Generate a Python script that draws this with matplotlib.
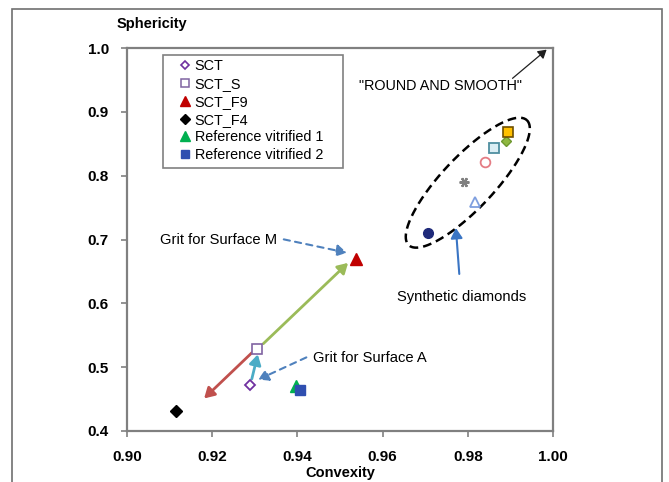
import numpy as np
import matplotlib
matplotlib.use("Agg")
import matplotlib.pyplot as plt
from matplotlib.patches import Rectangle
from matplotlib.lines import Line2D

plt.rcParams['font.family'] = ['Liberation Sans', 'DejaVu Sans']

# ---- data ----
legend_labels = ["SCT", "SCT_S", "SCT_F9", "SCT_F4", "Reference vitrified 1", "Reference vitrified 2"]
legend_x = [0.9288, 0.9305, 0.9537, 0.9115, 0.9397, 0.9407]
legend_y = [0.472, 0.529, 0.670, 0.432, 0.470, 0.465]

synthetic_x = [0.9706, 0.9817, 0.9791, 0.9840, 0.9861, 0.9890, 0.9895]
synthetic_y = [0.710, 0.759, 0.790, 0.822, 0.843, 0.8545, 0.869]

x_ticks = [0.90, 0.92, 0.94, 0.96, 0.98, 1.00]
y_ticks = [0.4, 0.5, 0.6, 0.7, 0.8, 0.9, 1.0]

# ---- styles ----
legend_styles = [
    dict(marker='D', ms=5, mfc='white', mec='#7030a0', mew=1.3),
    dict(marker='s', ms=6.5, mfc='white', mec='#8064a2', mew=1.2),
    dict(marker='^', ms=9, mfc='#c00000', mec='#c00000', mew=1),
    dict(marker='D', ms=6, mfc='black', mec='black', mew=1),
    dict(marker='^', ms=8, mfc='#00b050', mec='#00b050', mew=1),
    dict(marker='s', ms=7, mfc='#2f4fb0', mec='#2f4fb0', mew=1),
]
legend_handle_styles = [
    dict(marker='D', ms=4.5, mfc='white', mec='#7030a0', mew=1.2),
    dict(marker='s', ms=5.5, mfc='white', mec='#8064a2', mew=1.1),
    dict(marker='^', ms=6.5, mfc='#c00000', mec='#c00000', mew=1),
    dict(marker='D', ms=5, mfc='black', mec='black', mew=1),
    dict(marker='^', ms=6.5, mfc='#00b050', mec='#00b050', mew=1),
    dict(marker='s', ms=6, mfc='#2f4fb0', mec='#2f4fb0', mew=1),
]
synthetic_styles = [
    dict(marker='o', ms=7, mfc='#1f2a7a', mec='#1f2a7a', mew=1),
    dict(marker='^', ms=7.5, mfc='white', mec='#7f9fdf', mew=1.3),
    dict(marker=(6, 2, 90), ms=7, mfc='#808080', mec='#808080', mew=1.6),
    dict(marker='o', ms=7, mfc='white', mec='#e47c84', mew=1.3),
    dict(marker='s', ms=7.5, mfc='#dbeef4', mec='#4f8fa0', mew=1.3),
    dict(marker='D', ms=5, mfc='#8fb840', mec='#6f9830', mew=1),
    dict(marker='s', ms=7.5, mfc='#ffc000', mec='#6f5000', mew=1.2),
]

fig = plt.figure(figsize=(6.69, 4.82), dpi=100)
W, H = 669, 482
ax = fig.add_axes([127 / W, 1 - 431 / H, (553 - 127) / W, (431 - 48) / H])

for xv, yv, st in zip(legend_x, legend_y, legend_styles):
    ax.plot([xv], [yv], linestyle='none', zorder=5, **st)
for xv, yv, st in zip(synthetic_x, synthetic_y, synthetic_styles):
    ax.plot([xv], [yv], linestyle='none', zorder=5, **st)

ax.set_xlim(0.90, 1.00)
ax.set_ylim(0.4, 1.0)
ax.set_xticks(x_ticks)
ax.set_xticklabels([f"{v:.2f}" for v in x_ticks], fontweight='bold', fontsize=11)
ax.set_yticks(y_ticks)
ax.set_yticklabels([f"{v:.1f}" for v in y_ticks], fontweight='bold', fontsize=11)
ax.tick_params(direction='out', length=4, width=1.2, color='#808080')
ax.tick_params(axis='x', pad=10)
ax.tick_params(axis='y', pad=9)
for s in ax.spines.values():
    s.set_color('#808080')
    s.set_linewidth(1.6)

ax.set_xlabel("Convexity", fontweight='bold', fontsize=10.5, labelpad=1)
fig.text(152 / W, 1 - 24 / H, "Sphericity", fontweight='bold', fontsize=10.5,
         ha='center', va='center')

# ---- arrows ----
def arrow(tail, head, color, ls='-', lw=1.8, hw=3.5, hl=6):
    ax.annotate("", xy=head, xytext=tail,
                arrowprops=dict(arrowstyle=f"-|>,head_width={hw/10:.2f},head_length={hl/10:.2f}",
                                color=color, lw=lw, linestyle=ls,
                                shrinkA=0, shrinkB=0), zorder=4)

arrow((0.9320, 0.5368), (0.9519, 0.6634), '#9bbb59', lw=2)
arrow((0.9293, 0.5225), (0.9181, 0.4510), '#c0504d', lw=2)
arrow((0.9293, 0.4816), (0.9307, 0.5200), '#4bacc6', lw=2)
arrow((0.9421, 0.5153), (0.9308, 0.4806), '#4f81bd', ls=(0, (3, 2.5)), lw=1.5)
arrow((0.9368, 0.7002), (0.9516, 0.6793), '#4f81bd', ls=(0, (3, 2.5)), lw=1.5)
arrow((0.9905, 0.9525), (0.9985, 0.9974), '#202020', lw=0.9, hw=3, hl=5)
arrow((0.9780, 0.6460), (0.9772, 0.7180), '#3a75c4', lw=1.5)

# ---- ellipse ----
t = np.linspace(0, 2 * np.pi, 300)
cx, cy = 0.980, 0.789
ux, uy = 0.01385, 0.098
vx, vy = 0.00450, -0.0275
ax.plot(cx + np.cos(t) * ux + np.sin(t) * vx, cy + np.cos(t) * uy + np.sin(t) * vy,
        color='black', lw=1.8, linestyle=(0, (3.5, 2)), zorder=3)

# ---- texts ----
ax.text(0.9737, 0.9405, '"ROUND AND SMOOTH"', ha='center', va='center', fontsize=10.4)
ax.text(0.9216, 0.699, 'Grit for Surface M', ha='center', va='center', fontsize=10.6)
ax.text(0.9570, 0.5144, 'Grit for Surface A', ha='center', va='center', fontsize=10.6)
ax.text(0.9786, 0.610, 'Synthetic diamonds', ha='center', va='center', fontsize=10.6)

# ---- legend ----
handles = [Line2D([], [], linestyle='none', **st) for st in legend_handle_styles]
ax_w, ax_h = 553 - 127, 431 - 48
leg = ax.legend(handles, legend_labels, loc='upper left',
                bbox_to_anchor=((176 - 127) / ax_w, (431 - 56) / ax_h),
                frameon=False, fontsize=10.4, handlelength=0.9, handletextpad=0.2,
                borderpad=0.2, labelspacing=0.27, borderaxespad=0)
ax.add_patch(Rectangle(((163 - 127) / ax_w, (431 - 168) / ax_h), (343 - 163) / ax_w,
                       (168 - 55) / ax_h, transform=ax.transAxes, fill=False,
                       edgecolor='#808080', lw=1.2, zorder=6))

# ---- outer border ----
fig.add_artist(Rectangle((12 / W, -0.05), (662 - 12) / W, 1 - 9 / H + 0.05,
                         transform=fig.transFigure, fill=False, edgecolor='#707070', lw=1.2))

fig.savefig("out.png", dpi=100)
